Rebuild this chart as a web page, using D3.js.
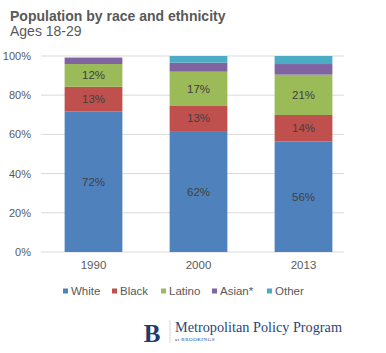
<!DOCTYPE html>
<html><head><meta charset="utf-8">
<script src="https://cdn.jsdelivr.net/npm/d3@7"></script>
<style>body{margin:0;background:#fff}svg{display:block}</style>
</head><body>
<svg id="c" width="386" height="353"></svg>
<script>
const years = ["1990", "2000", "2013"];
const seriesNames = ["White", "Black", "Latino", "Asian*", "Other"];
const white  = [71.6, 61.7, 56.3];
const black  = [12.7, 13.1, 13.6];
const latino = [11.6, 17.2, 20.6];
const asian  = [3.3, 4.6, 5.4];
const other  = [0, 3.4, 4.1];
const yTicks = [0, 20, 40, 60, 80, 100];
const colors = ["#4F81BD", "#C0504D", "#9BBB59", "#8064A2", "#4BACC6"];

const svg = d3.select("#c");
const font = "Liberation Sans, Arial, sans-serif";
const rows = years.map((y, i) => ({year: y, White: white[i], Black: black[i], Latino: latino[i], "Asian*": asian[i], Other: other[i]}));
const stack = d3.stack().keys(seriesNames)(rows);

const x = d3.scaleBand().domain(years).range([41, 356]).paddingInner(0.45).paddingOuter(0.225);
const y = d3.scaleLinear().domain([0, 100]).range([252, 56]);

// title
svg.append("text").attr("x", 10).attr("y", 21).attr("font-family", font).attr("font-weight", "bold")
  .attr("font-size", 14).attr("fill", "#595959").text("Population by race and ethnicity");
svg.append("text").attr("x", 10).attr("y", 36).attr("font-family", font)
  .attr("font-size", 14).attr("fill", "#595959").text("Ages 18-29");

// gridlines
svg.append("g").selectAll("line").data(yTicks).join("line")
  .attr("x1", 41).attr("x2", 344).attr("y1", d => y(d)).attr("y2", d => y(d))
  .attr("stroke", "#d9d9d9").attr("stroke-width", 1);

// y axis labels
const yAxis = d3.axisLeft(y).tickValues(yTicks).tickFormat(d => d + "%").tickSize(0).tickPadding(0);
const ga = svg.append("g").attr("transform", "translate(31,0)").call(yAxis);
ga.select(".domain").remove();
ga.selectAll("text").attr("font-family", font).attr("font-size", 11).attr("fill", "#595959");

// bars
const layers = svg.append("g").selectAll("g").data(stack).join("g").attr("fill", (d, i) => colors[i]);
layers.selectAll("rect").data(d => d).join("rect")
  .attr("x", d => x(d.data.year)).attr("width", x.bandwidth())
  .attr("y", d => y(d[1])).attr("height", d => y(d[0]) - y(d[1]));

// value labels for first three series
stack.slice(0, 3).forEach(layer => {
  svg.append("g").selectAll("text").data(layer).join("text")
    .attr("x", d => x(d.data.year) + x.bandwidth() / 2)
    .attr("y", d => (y(d[0]) + y(d[1])) / 2)
    .attr("dy", "0.35em").attr("text-anchor", "middle")
    .attr("font-family", font).attr("font-size", 11.5).attr("fill", "#404040")
    .text(d => d3.format(".0f")(d[1] - d[0]) + "%");
});

// x axis labels
const xAxis = d3.axisBottom(x).tickSize(0).tickPadding(0);
const gx = svg.append("g").attr("transform", "translate(0,261)").call(xAxis);
gx.select(".domain").remove();
gx.selectAll("text").attr("font-family", font).attr("font-size", 11.5).attr("fill", "#595959");

// legend
const legX = [63, 112, 161, 212, 267];
const lg = svg.append("g").selectAll("g").data(seriesNames).join("g")
  .attr("transform", (d, i) => `translate(${legX[i]},291)`);
lg.append("rect").attr("x", 0).attr("y", -2.5).attr("width", 5).attr("height", 5).attr("fill", (d, i) => colors[i]);
lg.append("text").attr("x", 8).attr("dy", "0.35em").attr("font-family", font).attr("font-size", 11.5)
  .attr("fill", "#595959").text(d => d);

// logo
const logo = svg.append("g");
logo.append("text").attr("x", 152).attr("y", 342).attr("text-anchor", "middle")
  .attr("font-family", "Liberation Serif, serif").attr("font-weight", "bold")
  .attr("font-size", 25).attr("fill", "#1f3a6e").text("B");
logo.append("line").attr("x1", 170).attr("x2", 170).attr("y1", 320).attr("y2", 343)
  .attr("stroke", "#c8c8c8").attr("stroke-width", 0.7);
logo.append("text").attr("x", 175).attr("y", 332).attr("font-family", "Liberation Serif, serif")
  .attr("font-size", 15).attr("fill", "#2a4577").attr("textLength", 167).attr("lengthAdjust", "spacingAndGlyphs")
  .text("Metropolitan Policy Program");
logo.append("text").attr("x", 175).attr("y", 341).attr("font-family", "Liberation Serif, serif")
  .attr("font-size", 5).attr("fill", "#2a4577").attr("letter-spacing", 0.5).text("at BROOKINGS");
</script>
</body></html>
